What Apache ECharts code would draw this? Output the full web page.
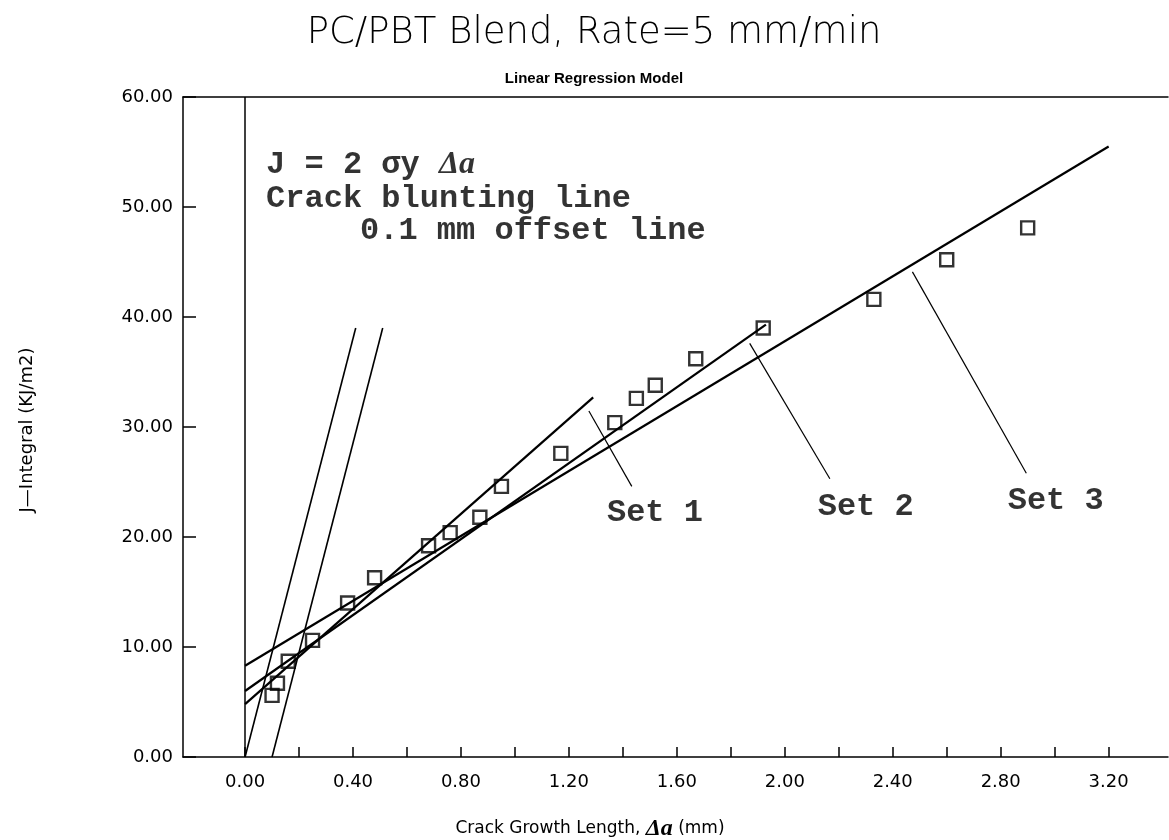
<!DOCTYPE html>
<html><head><meta charset="utf-8">
<script src="https://cdn.jsdelivr.net/npm/echarts@6/dist/echarts.min.js"></script>
<style>html,body{margin:0;padding:0;background:#fff}#c{width:1169px;height:840px}</style>
</head><body><div id="c"></div>
<script>
// Measured data points: crack growth length (mm) vs J-integral (kJ/m2)
const crackGrowth = [0.10,0.12,0.16,0.25,0.38,0.48,0.68,0.76,0.87,0.95,1.17,1.37,1.45,1.52,1.67,1.92,2.33,2.60,2.90];
const jIntegral   = [5.6,6.7,8.7,10.6,14.0,16.3,19.2,20.4,21.8,24.6,27.6,30.4,32.6,33.8,36.2,39.0,41.6,45.2,48.1];

// Regression line end points
const set1Line = [[0, 4.8], [1.29, 32.7]];
const set2Line = [[0, 6.0], [1.93, 39.3]];
const set3Line = [[0, 8.3], [3.20, 55.5]];
// Blunting line and 0.1 mm offset line
const bluntLine  = [[0, 0], [0.41, 39]];
const offsetLine = [[0.1, 0], [0.51, 39]];
// Label pointer lines
const pointer1 = [[1.274, 31.45], [1.433, 24.6]];
const pointer2 = [[1.870, 37.6], [2.167, 25.3]];
const pointer3 = [[2.473, 44.1], [2.895, 25.8]];

// Annotation texts and anchors (data coords)
const annoText = ['{m|J = 2 σy }{d|Δa}', '{m|Crack blunting line}', '{m|0.1 mm offset line}', '{m|Set 1}', '{m|Set 2}', '{m|Set 3}'];
const annoX = [0.078, 0.078, 0.426, 1.341, 2.122, 2.826];
const annoY = [53.8, 50.7, 47.8, 22.2, 22.7, 23.3];

// Tick values
const xTickValues  = [0,0.2,0.4,0.6,0.8,1.0,1.2,1.4,1.6,1.8,2.0,2.2,2.4,2.6,2.8,3.0,3.2];
const xLabelValues = [0,0.4,0.8,1.2,1.6,2.0,2.4,2.8,3.2];

const BLACK = '#000';
const chart = echarts.init(document.getElementById('c'));

function lineSeries(name, data, width) {
  return {
    name, type: 'line', data, symbol: 'none', silent: true,
    lineStyle: { color: BLACK, width }, z: 3
  };
}

const rich = {
  m: { fontFamily: 'Liberation Mono', fontWeight: 'bold', fontSize: 32, color: BLACK },
  d: { fontFamily: 'Liberation Serif', fontStyle: 'italic', fontWeight: 'bold', fontSize: 32, color: BLACK }
};

chart.setOption({
  animation: false,
  backgroundColor: '#fff',
  title: [
    { text: 'PC/PBT Blend, Rate=5 mm/min', left: 589, top: 10, textAlign: 'center',
      textStyle: { fontFamily: 'DejaVu Sans', fontSize: 37, fontWeight: 300, color: BLACK } },
    { text: 'Linear Regression Model', left: 589, top: 66, textAlign: 'center',
      textStyle: { fontFamily: 'Liberation Sans', fontSize: 15, fontWeight: 'bold', color: BLACK } }
  ],
  grid: { left: 183, right: 1, top: 97, bottom: 83 },
  xAxis: [{
    type: 'value', min: -0.23, max: 3.42,
    axisLine: { show: true, onZero: false, lineStyle: { color: BLACK, width: 1.5 } },
    axisTick: { show: true, inside: true, length: 10, customValues: xTickValues, lineStyle: { color: BLACK, width: 1.5 } },
    axisLabel: { customValues: xLabelValues, formatter: v => v.toFixed(2), margin: 16,
      fontFamily: 'DejaVu Sans', fontSize: 18, color: BLACK },
    splitLine: { show: false }
  }, {
    type: 'value', position: 'top', min: -0.23, max: 3.42,
    axisLine: { show: true, onZero: false, lineStyle: { color: BLACK, width: 1.5 } },
    axisTick: { show: false }, axisLabel: { show: false }, splitLine: { show: false }
  }],
  yAxis: {
    type: 'value', min: 0, max: 60, interval: 10,
    axisLine: { show: true, onZero: false, lineStyle: { color: BLACK, width: 1.5 } },
    axisTick: { show: true, inside: true, length: 13, lineStyle: { color: BLACK, width: 1.5 } },
    axisLabel: { formatter: v => v.toFixed(2), margin: 10, fontFamily: 'DejaVu Sans', fontSize: 18, color: BLACK },
    splitLine: { show: false }
  },
  graphic: [
    { type: 'text', x: 590, y: 829, style: {
        text: '{a|Crack Growth Length, }{b|Δa}{a| (mm)}', align: 'center', verticalAlign: 'middle',
        rich: {
          a: { fontFamily: 'DejaVu Sans', fontSize: 17, fill: BLACK, color: BLACK },
          b: { fontFamily: 'Liberation Serif', fontStyle: 'italic', fontWeight: 'bold', fontSize: 24, fill: BLACK, color: BLACK }
        } } },
    { type: 'text', x: 27, y: 430, rotation: Math.PI / 2, style: {
        text: 'J—Integral (KJ/m2)', font: '18px "DejaVu Sans"', align: 'center', verticalAlign: 'middle', fill: BLACK } }
  ],
  series: [
    {
      name: 'data', type: 'scatter', symbol: 'rect', symbolSize: 13,
      data: crackGrowth.map((x, i) => [x, jIntegral[i]]),
      itemStyle: { color: 'rgba(0,0,0,0)', borderColor: BLACK, borderWidth: 2.4 }, z: 4,
      markLine: {
        silent: true, symbol: ['none', 'none'], label: { show: false },
        lineStyle: { color: BLACK, width: 1.5, type: 'solid' },
        data: [{ xAxis: 0 }]
      }
    },
    lineSeries('Set 1', set1Line, 2.2),
    lineSeries('Set 2', set2Line, 2.2),
    lineSeries('Set 3', set3Line, 2.2),
    lineSeries('blunting', bluntLine, 1.6),
    lineSeries('offset', offsetLine, 1.6),
    lineSeries('p1', pointer1, 1.2),
    lineSeries('p2', pointer2, 1.2),
    lineSeries('p3', pointer3, 1.2),
    {
      name: 'annotations', type: 'scatter', symbolSize: 0, silent: true,
      data: annoX.map((x, i) => ({ value: [x, annoY[i]], label: { formatter: annoText[i] } })),
      label: { show: true, position: 'right', distance: 0, rich }
    }
  ]
});
</script>
</body></html>
